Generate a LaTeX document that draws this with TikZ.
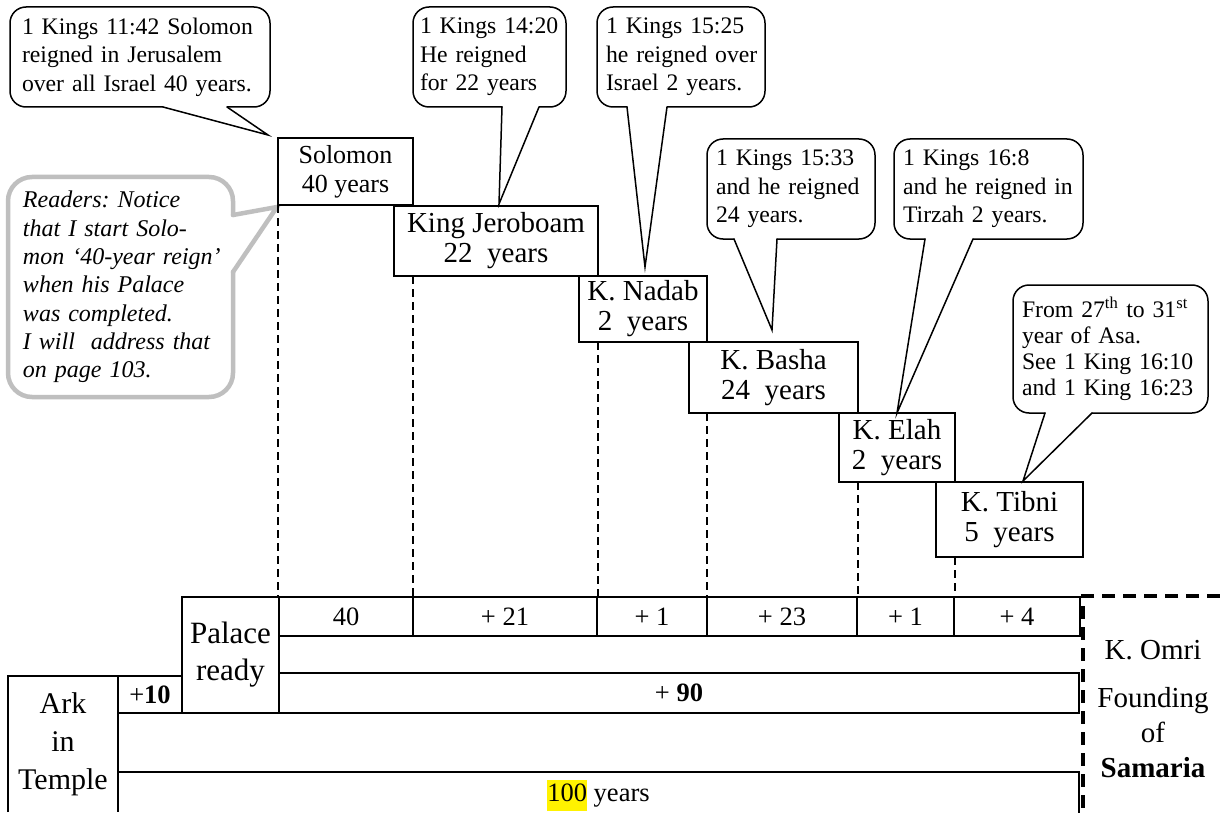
\documentclass[tikz,border=0pt]{standalone}
\usepackage{fontspec}
\setmainfont{Liberation Serif}
\usetikzlibrary{positioning, calc}

% bubble outline: node, left base x, tip, right base x
\newcommand{\calloutline}[4]{%
  \draw[talkline, rounded corners=16pt] (#2,0 |- #1.south) -- (#1.south west) -- (#1.north west)
    -- (#1.north east) -- (#1.south east) -- (#4,0 |- #1.south);
  \draw[talkline] (#2,0 |- #1.south) -- (#3) -- (#4,0 |- #1.south);}

\begin{document}
\frenchspacing
\begin{tikzpicture}[x=1pt, y=-1pt,
  king/.style={rectangle, draw=black, fill=white, line width=1.6pt, inner sep=0pt, outer sep=0pt,
               align=center, font=\fontsize{29}{30}\selectfont},
  say/.style={inner ysep=0pt, outer sep=0pt, align=left, minimum height=100pt,
              font=\fontsize{23.7}{28.5}\selectfont},
  readers/.style={inner xsep=15pt, inner ysep=0pt, outer sep=0pt, text width=195pt, minimum height=220pt,
                  align=left, font=\itshape\fontsize{24}{28.3}\selectfont},
  talkline/.style={line width=1.5pt, black, line cap=round, line join=miter},
  grayline/.style={line width=4.5pt, black!25, line cap=round, line join=miter},
  drop/.style={line width=1.6pt, dash pattern=on 8pt off 5pt},
  seg/.style={rectangle, draw=black, fill=white, line width=1.6pt, inner sep=0pt, outer sep=0pt,
              minimum height=39pt, align=center, font=\fontsize{26.5}{30}\selectfont},
  lbl/.style={inner sep=0pt, outer sep=0pt, align=center},
  rim/.style={line width=1.6pt, black},
  samline/.style={line width=3.8pt, dash pattern=on 13pt off 8pt}
]
\useasboundingbox[fill=white] (0,0) rectangle (1220,813);

%% note to readers
\node[readers] (rdr) at (120.5,287) {Readers: Notice\\
  \makebox[204pt][s]{that I start Solo-}\\
  \makebox[225pt][s]{mon `40-year reign'}\\
  when his Palace\\was completed.\\I will~ address that\\on page 103.};
\draw[grayline, rounded corners=24pt] (rdr.east |- 0,215) -- (rdr.north east) -- (rdr.north west)
  -- (rdr.south west) -- (rdr.south east) -- (rdr.east |- 0,272);
\draw[grayline] (rdr.east |- 0,215) -- (277,207) -- (rdr.east |- 0,272);

%% kings, stepping down
\node[king, font=\fontsize{26}{29}\selectfont, minimum width=135pt, minimum height=67pt] (sol) at (345.5,171.5) {Solomon\\40 years};
\node[king, minimum width=204pt, minimum height=70pt] (jer) at (496,241) {King Jeroboam\\22~ years};
\node[king, minimum width=128pt, minimum height=66pt] (nad) at (643,309) {K. Nadab\\2~ years};
\node[king, minimum width=169pt, minimum height=71pt] (bas) at (773.5,377.5) {K. Basha\\24~ years};
\node[king, minimum width=116pt, minimum height=69pt] (ela) at (897,447.5) {K. Elah\\2~ years};
\node[king, minimum width=147pt, minimum height=75pt] (tib) at (1009.5,519.5) {K. Tibni\\5~ years};

%% scripture callouts
\node[say, text width=236pt, inner xsep=12pt] (c1) at (140,57) {1~Kings~11:42~Solomon\\reigned in Jerusalem\\over~all~Israel~40~years.};
\node[say, text width=139pt, inner xsep=7pt] (c2) at (489.5,57) {1~Kings~14:20\\He reigned\\for 22 years};
\node[say, text width=150pt, inner xsep=9pt] (c3) at (681,57) {1~Kings~15:25\\he~reigned~over\\Israel 2 years.};
\node[say, text width=150pt, inner xsep=9pt] (c4) at (791,189) {1~Kings~15:33\\and~he~reigned\\24 years.};
\node[say, text width=171pt, inner xsep=9pt] (c5) at (988.5,189) {1~Kings~16:8\\and~he~reigned~in\\Tirzah 2 years.};
\node[say, text width=177pt, inner xsep=9pt, minimum height=128pt, font=\fontsize{23.7}{26}\selectfont] (c6) at (1110.5,349)
  {From~27\textsuperscript{th}~to~31\textsuperscript{st}\\year of Asa.\\See~1~King~16:10\\and~1~King~16:23};
\calloutline{c1}{163}{268,135}{227}
\calloutline{c2}{502}{499,204}{539}
\calloutline{c3}{627}{645,267}{667}
\calloutline{c4}{734}{772,330}{777}
\calloutline{c5}{925}{897,413}{973}
\calloutline{c6}{1045}{1023,481}{1092}

%% year counts
\node[seg, minimum width=134pt] (s40) at (346,616.5) {40};
\node[seg, minimum width=184pt, right=0pt of s40] (s21) {+ 21};
\node[seg, minimum width=110pt, right=0pt of s21] (s1a) {+ 1};
\node[seg, minimum width=150pt, right=0pt of s1a] (s23) {+ 23};
\node[seg, minimum width=97pt, right=0pt of s23] (s1b) {+ 1};
\node[seg, minimum width=126pt, right=0pt of s1b] (s4) {+ 4};

%% drop lines from each reign
\draw[drop] (sol.south west) -- (sol.south west |- s40.north);
\draw[drop] (sol.south east |- jer.south) -- (sol.south east |- s21.north);
\draw[drop] (jer.south east |- nad.south) -- (jer.south east |- s1a.north);
\draw[drop] (nad.south east |- bas.south) -- (nad.south east |- s23.north);
\draw[drop] (bas.south east |- ela.south) -- (bas.south east |- s1b.north);
\draw[drop] (ela.south east |- tib.south) -- (ela.south east |- s4.north);

%% palace, ark and totals
\node[seg, minimum width=97pt, minimum height=116pt, font=\fontsize{31}{37}\selectfont, anchor=north east] (pal) at (s40.north west) {Palace\\ready};
\node[seg, minimum width=800pt, minimum height=40pt, anchor=south west] (p90) at (pal.south east) {+ \textbf{90}};
\node[seg, minimum width=64pt, minimum height=37pt, anchor=south east] (p10) at (pal.south west) {+\textbf{10}};
\node[lbl, minimum width=110pt, minimum height=136pt, anchor=north east, font=\fontsize{30}{38}\selectfont] (ark) at (p10.north west) {Ark\\in\\Temple};
\draw[rim] (ark.south west) -- (ark.north west) -- (ark.north east) -- (ark.south east);
\node[lbl, minimum width=961pt, minimum height=46pt, anchor=north west, font=\fontsize{26.5}{31}\selectfont] (y100) at (ark.east |- 0,772)
  {{\setlength{\fboxsep}{0pt}\colorbox{yellow}{\strut 100}} years};
\draw[rim] (y100.north west) -- (y100.north east) -- (y100.south east);

%% Omri and Samaria
\coordinate (cut) at (1083,596);
\draw[samline] (1220,596) -- (cut) -- (cut |- 0,813);
\node[lbl, font=\fontsize{29}{35}\selectfont] (omri) at (1153,650) {K. Omri};
\node[lbl, font=\fontsize{29}{35}\selectfont] (sam) at (1153,733) {Founding\\of\\\textbf{Samaria}};
\end{tikzpicture}
\end{document}
